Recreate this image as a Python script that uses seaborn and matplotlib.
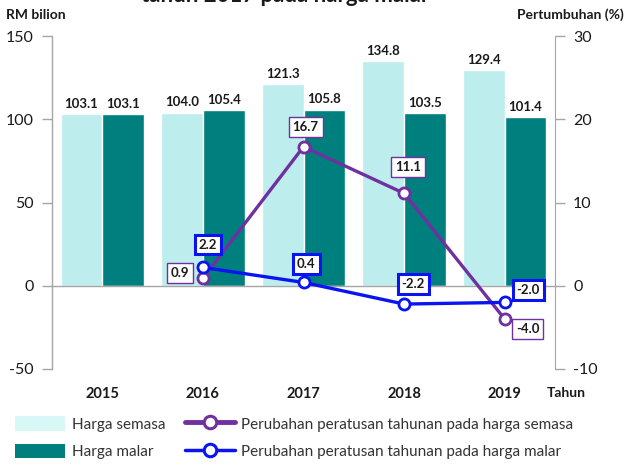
import numpy as np
import pandas as pd
import matplotlib
matplotlib.use("Agg")
import matplotlib.pyplot as plt
from matplotlib.patches import Patch
from matplotlib.lines import Line2D
from matplotlib.ticker import FixedLocator
import seaborn as sns

# ---------------- data ----------------
years = ["2015", "2016", "2017", "2018", "2019"]
harga_semasa = [103.1, 104.0, 121.3, 134.8, 129.4]
harga_malar = [103.1, 105.4, 105.8, 103.5, 101.4]
line_years = ["2016", "2017", "2018", "2019"]
pct_semasa = [0.9, 16.7, 11.1, -4.0]
pct_malar = [2.2, 0.4, -2.2, -2.0]
series_names = ["Harga semasa", "Harga malar"]
line_names = ["Perubahan peratusan tahunan pada harga semasa",
              "Perubahan peratusan tahunan pada harga malar"]
left_ticks = [-50, 0, 50, 100, 150]
right_ticks = [-10, 0, 10, 20, 30]

# ---------------- style ----------------
sns.set_style("white")
plt.rcParams["font.family"] = ["Lato", "DejaVu Sans"]
plt.rcParams["axes.unicode_minus"] = False

C_LIGHT = "#BDEDED"
C_LIGHT_LEG = "#D8F8F8"
C_DARK = "#007F7F"
C_PURPLE = "#7030A0"
C_BLUE = "#0A14F0"
C_AXIS = "#A6A6A6"
C_TEXT = "#1A1A1A"

df = pd.DataFrame({
    "Tahun": years * 2,
    "Nilai": harga_semasa + harga_malar,
    "Siri": [series_names[0]] * len(years) + [series_names[1]] * len(years),
})

fig = plt.figure(figsize=(6.27, 4.66), dpi=100)
ax = fig.add_axes([52 / 627, 1 - 369 / 466, (555 - 52) / 627, (369 - 36) / 466])

sns.barplot(data=df, x="Tahun", y="Nilai", hue="Siri", order=years,
            hue_order=series_names, palette=[C_LIGHT, C_DARK],
            width=0.83, saturation=1, ax=ax, legend=False)

for cont in ax.containers:
    ax.bar_label(cont, fmt="%.1f", padding=3, fontsize=9.5,
                 fontweight="bold", color=C_TEXT)

ax.set_xlim(-0.5, len(years) - 0.5)
ax.set_ylim(-50, 150)
ax.set_yticks(left_ticks)
ax.set_xlabel("")
ax.set_ylabel("")

# spines
for s in ["top", "right"]:
    ax.spines[s].set_visible(False)
ax.spines["left"].set_color(C_AXIS)
ax.spines["bottom"].set_color(C_AXIS)
ax.spines["bottom"].set_position(("data", 0))
ax.spines["left"].set_linewidth(1)
ax.spines["bottom"].set_linewidth(1)

ax.tick_params(axis="y", colors=C_AXIS, labelcolor=C_TEXT, labelsize=11.5,
               length=7, direction="out", width=1, pad=6)
ax.tick_params(axis="x", which="major", length=0, pad=73, labelsize=10.5,
               labelcolor=C_TEXT)
for lab in ax.get_xticklabels():
    lab.set_fontweight("bold")
ax.xaxis.set_minor_locator(FixedLocator(np.arange(len(years) - 1) + 0.5))
ax.tick_params(axis="x", which="minor", length=8, direction="inout",
               color=C_AXIS, width=1)

# ---------------- lines ----------------
ax2 = ax.twinx()
xpos = [years.index(y) for y in line_years]
ldf = pd.DataFrame({"x": xpos * 2,
                    "v": pct_semasa + pct_malar,
                    "s": [line_names[0]] * len(xpos) + [line_names[1]] * len(xpos)})
sns.lineplot(data=ldf, x="x", y="v", hue="s", hue_order=line_names,
             palette=[C_PURPLE, C_BLUE], linewidth=2.4, marker="o",
             markersize=8, markerfacecolor="white", markeredgewidth=2,
             ax=ax2, legend=False)
for ln, col in zip(ax2.lines, [C_PURPLE, C_BLUE]):
    ln.set_markeredgecolor(col)

ax2.set_ylim(-10, 30)
ax2.set_yticks(right_ticks)
ax2.set_xlim(-0.5, len(years) - 0.5)
ax2.set_xlabel("")
ax2.set_ylabel("")
for s in ["top", "bottom", "left"]:
    ax2.spines[s].set_visible(False)
ax2.spines["right"].set_color(C_AXIS)
ax2.tick_params(axis="y", colors=C_AXIS, labelcolor=C_TEXT, labelsize=11.5,
                length=7, direction="out", width=1, pad=6)

# annotation offsets (points)
off_semasa = [(-16.5, 4), (1.5, 14), (3, 19), (16.5, -7)]
off_malar = [(3.6, 16.5), (2, 13.5), (6.5, 14.5), (17, 9)]
for xv, v, off in zip(xpos, pct_semasa, off_semasa):
    ax2.annotate(f"{v:.1f}", xy=(xv, v), xytext=off, textcoords="offset points",
                 ha="center", va="center", fontsize=9.5, fontweight="bold",
                 color=C_TEXT, zorder=5,
                 bbox=dict(boxstyle="square,pad=0.3", fc="white",
                           ec=C_PURPLE, lw=1))
for xv, v, off in zip(xpos, pct_malar, off_malar):
    ax2.annotate(f"{v:.1f}", xy=(xv, v), xytext=off, textcoords="offset points",
                 ha="center", va="center", fontsize=9.5, fontweight="bold",
                 color=C_TEXT, zorder=5,
                 bbox=dict(boxstyle="square,pad=0.3", fc="white",
                           ec=C_BLUE, lw=2.2))

# ---------------- texts ----------------
fig.text(0.455, 1 - 2 / 466, "tahun 2017 pada harga malar", ha="center",
         va="baseline", fontsize=16, fontweight="bold", color=C_TEXT)
fig.text(6 / 627, 1 - 15 / 466, "RM bilion", ha="left", va="center",
         fontsize=10, fontweight="bold", color=C_TEXT)
fig.text(624 / 627, 1 - 15 / 466, "Pertumbuhan (%)", ha="right", va="center",
         fontsize=10, fontweight="bold", color=C_TEXT)
fig.text(566 / 627, 1 - 393 / 466, "Tahun", ha="center", va="center",
         fontsize=10, fontweight="bold", color=C_TEXT)

# ---------------- legend ----------------
handles = [
    Patch(facecolor=C_LIGHT_LEG, edgecolor="none"),
    Patch(facecolor=C_DARK, edgecolor="none"),
    Line2D([], [], color=C_PURPLE, lw=3.5, marker="o", markersize=9,
           markerfacecolor="white", markeredgecolor=C_PURPLE, markeredgewidth=2.2),
    Line2D([], [], color=C_BLUE, lw=2.5, marker="o", markersize=9,
           markerfacecolor="white", markeredgecolor=C_BLUE, markeredgewidth=2.2),
]
labels = series_names + line_names
leg = fig.legend(handles, labels, loc="upper left",
                 bbox_to_anchor=(15 / 627, 1 - 416 / 466), ncol=2,
                 frameon=False, fontsize=11, handlelength=3.3,
                 handleheight=1.1, handletextpad=0.4, columnspacing=1.3,
                 labelspacing=0.8, borderpad=0, borderaxespad=0)
for t in leg.get_texts():
    t.set_color("#333333")

fig.savefig("out.png", dpi=100)
